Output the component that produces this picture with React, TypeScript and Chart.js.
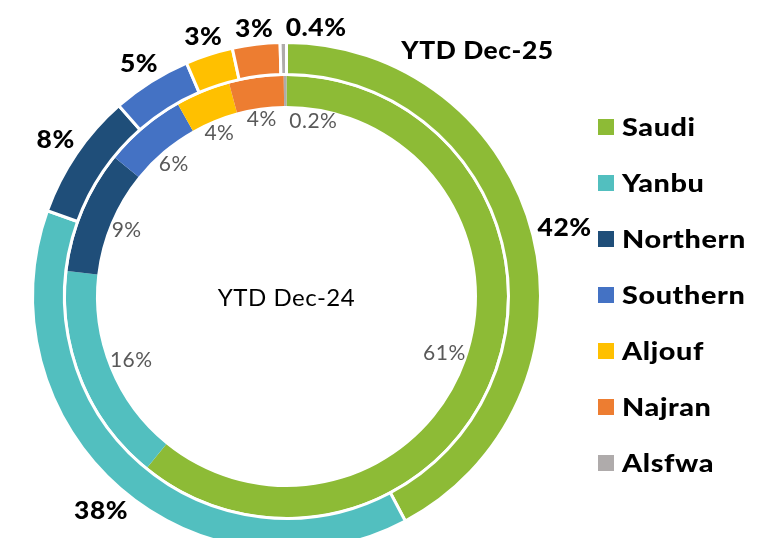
import React, { useEffect, useRef } from "react";
import { Chart, registerables } from "chart.js";

Chart.register(...registerables);

const regions = ["Saudi", "Yanbu", "Northern", "Southern", "Aljouf", "Najran", "Alsfwa"];
const ytdDec25 = [42, 38, 8, 5, 3, 3, 0.4];
const ytdDec24 = [61, 16, 9, 6, 4, 4, 0.2];
const regionColors = ["#8DBB36", "#52BFBF", "#1F4E79", "#4472C4", "#FFC000", "#ED7D31", "#AFABAB"];
const outerTitle = "YTD Dec-25";
const innerTitle = "YTD Dec-24";

const FONT = "Lato, 'Open Sans', sans-serif";

type Box = { x: number; y: number; w: number; h: number };

function wideText(ctx: any, text: string, x: number, y: number, sx: number, align: string) {
  ctx.save();
  ctx.translate(x, y);
  ctx.scale(sx, 1);
  ctx.textAlign = align;
  ctx.fillText(text, 0, 0);
  ctx.restore();
}

const ringLabels = {
  id: "ringLabels",
  afterDatasetsDraw(chart: any) {
    const ctx: any = chart.ctx;
    ctx.save();
    const drawRing = (
      dsIndex: number,
      values: number[],
      size: number,
      weight: string,
      spacing: string,
      sx: number,
      color: string,
      outside: boolean,
      pad: number,
      gap: number
    ) => {
      const meta = chart.getDatasetMeta(dsIndex);
      ctx.font = `${weight} ${size}px ${FONT}`;
      ctx.letterSpacing = spacing;
      ctx.fillStyle = color;
      ctx.textBaseline = "middle";
      const placed: Box[] = [];
      meta.data.forEach((arc: any, i: number) => {
        const p = arc.getProps(["x", "y", "startAngle", "endAngle", "outerRadius", "innerRadius"], true);
        const text = values[i] + "%";
        const w = ctx.measureText(text).width * sx;
        const h = size * 0.8;
        let a = (p.startAngle + p.endAngle) / 2;
        const pos = (ang: number) => {
          const c = Math.cos(ang);
          const s = Math.sin(ang);
          const ext = (Math.abs(c) * w) / 2 + (Math.abs(s) * h) / 2;
          const r = outside ? p.outerRadius + pad + ext : p.innerRadius - pad - ext;
          return { x: p.x + r * c, y: p.y + r * s };
        };
        const overlaps = (q: { x: number; y: number }) =>
          placed.some(
            (b) => Math.abs(b.x - q.x) < (b.w + w) / 2 + gap && Math.abs(b.y - q.y) < (b.h + h) / 2
          );
        let q = pos(a);
        let tries = 0;
        while (overlaps(q) && tries < 90) {
          a += Math.PI / 180;
          q = pos(a);
          tries++;
        }
        placed.push({ x: q.x, y: q.y, w, h });
        wideText(ctx, text, q.x, q.y + 1, sx, "center");
      });
    };
    drawRing(0, ytdDec25, 24, "900", "0.5px", 1.1, "#000000", true, 4, 8);
    drawRing(2, ytdDec24, 21, "normal", "0.5px", 1.0, "#595959", false, 0, 10);
    ctx.restore();
  },
  afterDraw(chart: any) {
    const ctx: any = chart.ctx;
    const meta = chart.getDatasetMeta(0);
    const arc = meta.data[0];
    const cx = arc.x;
    const cy = arc.y;
    ctx.save();
    ctx.textBaseline = "middle";
    ctx.fillStyle = "#000000";
    ctx.font = `normal 24px ${FONT}`;
    ctx.letterSpacing = "0.5px";
    wideText(ctx, innerTitle, cx, cy + 2, 1.0, "center");
    ctx.font = `900 24px ${FONT}`;
    ctx.letterSpacing = "0.5px";
    wideText(ctx, outerTitle, 469.5, 43, 1.1, "center");
    // legend
    regions.forEach((name, i) => {
      const y = 119 + i * 56;
      ctx.fillStyle = regionColors[i];
      ctx.fillRect(590, y - 8, 16, 16);
      ctx.fillStyle = "#000000";
      ctx.font = `900 24px ${FONT}`;
      ctx.letterSpacing = "0.5px";
      wideText(ctx, name, 614, y + 1, 1.2, "left");
    });
    ctx.restore();
  },
};

export default function App() {
  const ref = useRef<HTMLCanvasElement | null>(null);
  useEffect(() => {
    if (!ref.current) return;
    const chart = new Chart(ref.current, {
      type: "doughnut",
      data: {
        labels: regions,
        datasets: [
          {
            label: outerTitle,
            data: ytdDec25,
            backgroundColor: regionColors,
            borderColor: "#ffffff",
            borderWidth: 3,
            weight: 32,
          },
          {
            label: "spacer",
            data: [1],
            backgroundColor: "rgba(0,0,0,0)",
            borderWidth: 0,
            weight: 1.5,
          },
          {
            label: innerTitle,
            data: ytdDec24,
            backgroundColor: regionColors,
            borderWidth: 0,
            weight: 30,
          },
        ],
      },
      options: {
        responsive: false,
        animation: false,
        events: [],
        radius: 254,
        cutout: "75%",
        layout: { padding: { left: 0, top: 0, right: 196, bottom: 0 } },
        plugins: {
          legend: { display: false },
          tooltip: { enabled: false },
          title: { display: false },
        },
      } as any,
      plugins: [ringLabels],
    });
    return () => chart.destroy();
  }, []);
  return (
    <div style={{ position: "relative", width: 753, height: 530, overflow: "hidden" }}>
      <canvas ref={ref} width={753} height={577} style={{ position: "absolute", left: 0, top: 0 }} />
    </div>
  );
}
